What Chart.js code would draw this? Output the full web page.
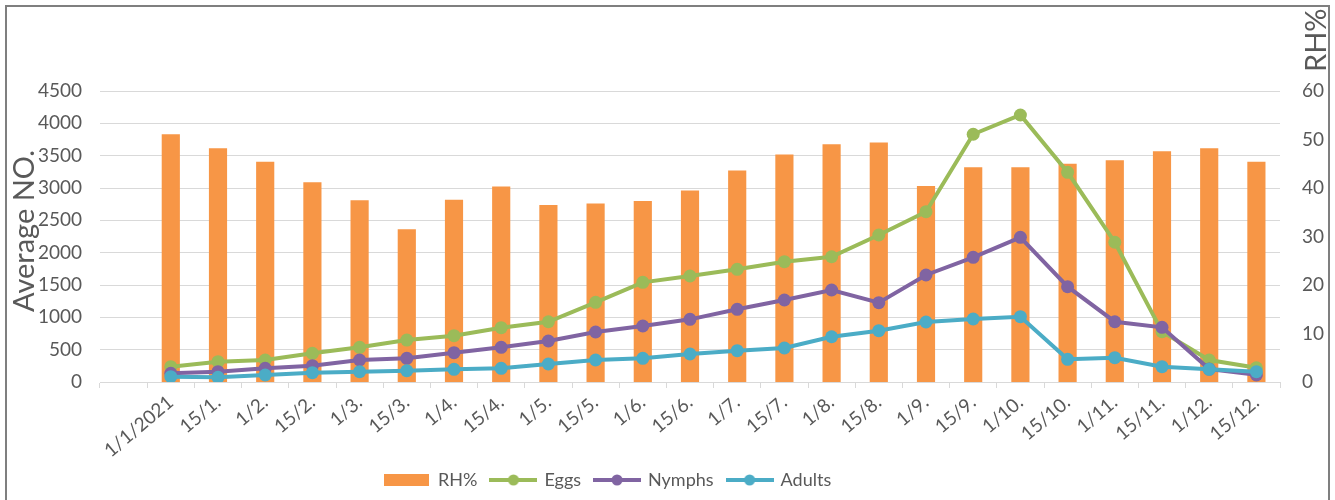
<!DOCTYPE html>
<html>
<head>
<meta charset="utf-8">
<script src="https://cdn.jsdelivr.net/npm/chart.js@4/dist/chart.umd.min.js"></script>
<style>
html,body{margin:0;padding:0;background:#fff;}
#wrap{position:relative;width:1335px;height:500px;overflow:hidden;}
canvas{display:block;}
</style>
</head>
<body>
<div id="wrap"><canvas id="c" width="1335" height="500"></canvas></div>
<script>
// ---- data ----
const categories = ['', '1/1/2021', '15/1.', '1/2.', '15/2.', '1/3.', '15/3.', '1/4.', '15/4.', '1/5.', '15/5.', '1/6.', '15/6.', '1/7.', '15/7.', '1/8.', '15/8.', '1/9.', '15/9.', '1/10.', '15/10.', '1/11.', '15/11.', '1/12.', '15/12.'];
const rhValues     = [null, 51.1, 48.2, 45.4, 41.2, 37.5, 31.5, 37.6, 40.3, 36.5, 36.8, 37.3, 39.5, 43.6, 46.9, 49.0, 49.4, 40.4, 44.3, 44.3, 45.0, 45.7, 47.6, 48.2, 45.4];
const eggsValues   = [null, 237, 314, 340, 443, 536, 649, 716, 840, 932, 1232, 1541, 1639, 1742, 1860, 1937, 2273, 2634, 3831, 4129, 3243, 2161, 778, 340, 220];
const nymphsValues = [null, 134, 160, 212, 252, 340, 366, 453, 536, 634, 773, 866, 969, 1124, 1268, 1423, 1226, 1655, 1928, 2237, 1474, 932, 846, 200, 110];
const adultsValues = [null, 82, 73, 108, 144, 160, 175, 196, 212, 278, 340, 366, 433, 484, 526, 700, 793, 928, 974, 1010, 351, 376, 237, 196, 160];
const seriesNames  = ['RH%', 'Eggs', 'Nymphs', 'Adults'];
const leftTitle  = 'Average NO.';
const rightTitle = 'RH%';

// ---- styles ----
const C_RH = '#F79646', C_EGGS = '#9BBB59', C_NYM = '#8064A2', C_AD = '#4BACC6';
const TXT = '#595959', GRID = '#D9D9D9';
const FONT = 'Lato, "Open Sans", sans-serif';

function legendImg(kind, color) {
  const cv = document.createElement('canvas');
  cv.width = 48; cv.height = 14;
  const g = cv.getContext('2d');
  if (kind === 'box') {
    g.fillStyle = color; g.fillRect(1, 1, 45, 12);
  } else {
    g.strokeStyle = color; g.lineWidth = 4;
    g.beginPath(); g.moveTo(0, 7); g.lineTo(48, 7); g.stroke();
    g.fillStyle = color; g.beginPath(); g.arc(24, 7, 5.5, 0, Math.PI * 2); g.fill();
  }
  return cv;
}

const decorPlugin = {
  id: 'decor',
  beforeDraw(chart) {
    const ctx = chart.ctx;
    ctx.save();
    ctx.fillStyle = '#fff';
    ctx.fillRect(0, 0, chart.width, chart.height);
    ctx.restore();
  },
  afterLayout(chart) {
    const lg = chart.legend;
    if (!lg || !lg.lineWidths) return;
    const pad = lg.options.labels.padding;
    const start = (lg.left + pad + lg.right - lg.lineWidths[0]) / 2;
    const d = 385 - start;
    lg.left += d; lg.right += d;
  },
  afterDraw(chart) {
    const ctx = chart.ctx;
    const a = chart.chartArea;
    ctx.save();
    ctx.fillStyle = TXT;
    ctx.font = '29px ' + FONT;
    ctx.textAlign = 'left';
    ctx.textBaseline = 'alphabetic';
    ctx.save();
    ctx.translate(34, a.bottom - 70);
    ctx.rotate(-Math.PI / 2);
    ctx.fillText(leftTitle, 0, 0);
    ctx.restore();
    ctx.save();
    ctx.translate(1326, 72);
    ctx.rotate(-Math.PI / 2);
    ctx.fillText(rightTitle, 0, 0);
    ctx.restore();
    ctx.strokeStyle = '#7F7F7F';
    ctx.lineWidth = 2;
    ctx.strokeRect(6, 6, 1323, 520);
    ctx.restore();
  }
};

function draw() {
  const legendImgs = [legendImg('box', C_RH), legendImg('line', C_EGGS), legendImg('line', C_NYM), legendImg('line', C_AD)];
  const lineDs = (label, data, color, order) => ({
    type: 'line', label, data, yAxisID: 'y', order,
    borderColor: color, backgroundColor: color,
    borderWidth: 4, pointRadius: 6.5, pointHoverRadius: 6.5,
    pointBackgroundColor: color, pointBorderColor: color, pointBorderWidth: 0,
    tension: 0, spanGaps: false
  });
  new Chart(document.getElementById('c'), {
    type: 'bar',
    data: {
      labels: categories,
      datasets: [
        { type: 'bar', label: seriesNames[0], data: rhValues, yAxisID: 'y1', order: 4,
          backgroundColor: C_RH, borderWidth: 0, barPercentage: 0.385, categoryPercentage: 1 },
        lineDs(seriesNames[1], eggsValues, C_EGGS, 3),
        lineDs(seriesNames[2], nymphsValues, C_NYM, 2),
        lineDs(seriesNames[3], adultsValues, C_AD, 1)
      ]
    },
    options: {
      responsive: false,
      animation: false,
      devicePixelRatio: 1,
      layout: { padding: { top: 91, left: 0, right: 0, bottom: 1 } },
      plugins: {
        tooltip: { enabled: false },
        legend: {
          position: 'bottom',
          labels: {
            color: TXT,
            font: { family: FONT, size: 18 },
            usePointStyle: true,
            pointStyleWidth: 44,
            padding: 14,
            generateLabels(chart) {
              const items = Chart.defaults.plugins.legend.labels.generateLabels(chart);
              items.sort((p, q) => p.datasetIndex - q.datasetIndex);
              items.forEach((it) => { it.pointStyle = legendImgs[it.datasetIndex]; });
              return items;
            }
          }
        }
      },
      scales: {
        x: {
          grid: { display: true, drawOnChartArea: false, offset: true, color: GRID, tickLength: 6 },
          border: { display: true, color: GRID, width: 1 },
          ticks: { color: TXT, font: { family: FONT, size: 19 }, autoSkip: false, maxRotation: 40, minRotation: 40, padding: 3 },
          afterFit(s) { s.height = 75; }
        },
        y: {
          position: 'left', min: 0, max: 4500,
          grid: { color: GRID, drawTicks: false },
          border: { display: false },
          ticks: { stepSize: 500, color: TXT, font: { family: FONT, size: 19 }, padding: 18, callback: (v) => String(v) },
          afterFit(s) { s.width = 100; }
        },
        y1: {
          position: 'right', min: 0, max: 60,
          grid: { display: false, drawTicks: false },
          border: { display: false },
          ticks: { stepSize: 10, color: TXT, font: { family: FONT, size: 19 }, padding: 22, callback: (v) => String(v) },
          afterFit(s) { s.width = 55; }
        }
      }
    },
    plugins: [decorPlugin]
  });
}

if (document.fonts && document.fonts.load) {
  Promise.all([document.fonts.load('18px Lato'), document.fonts.load('29px Lato')]).then(draw, draw);
} else { draw(); }
</script>
</body>
</html>
